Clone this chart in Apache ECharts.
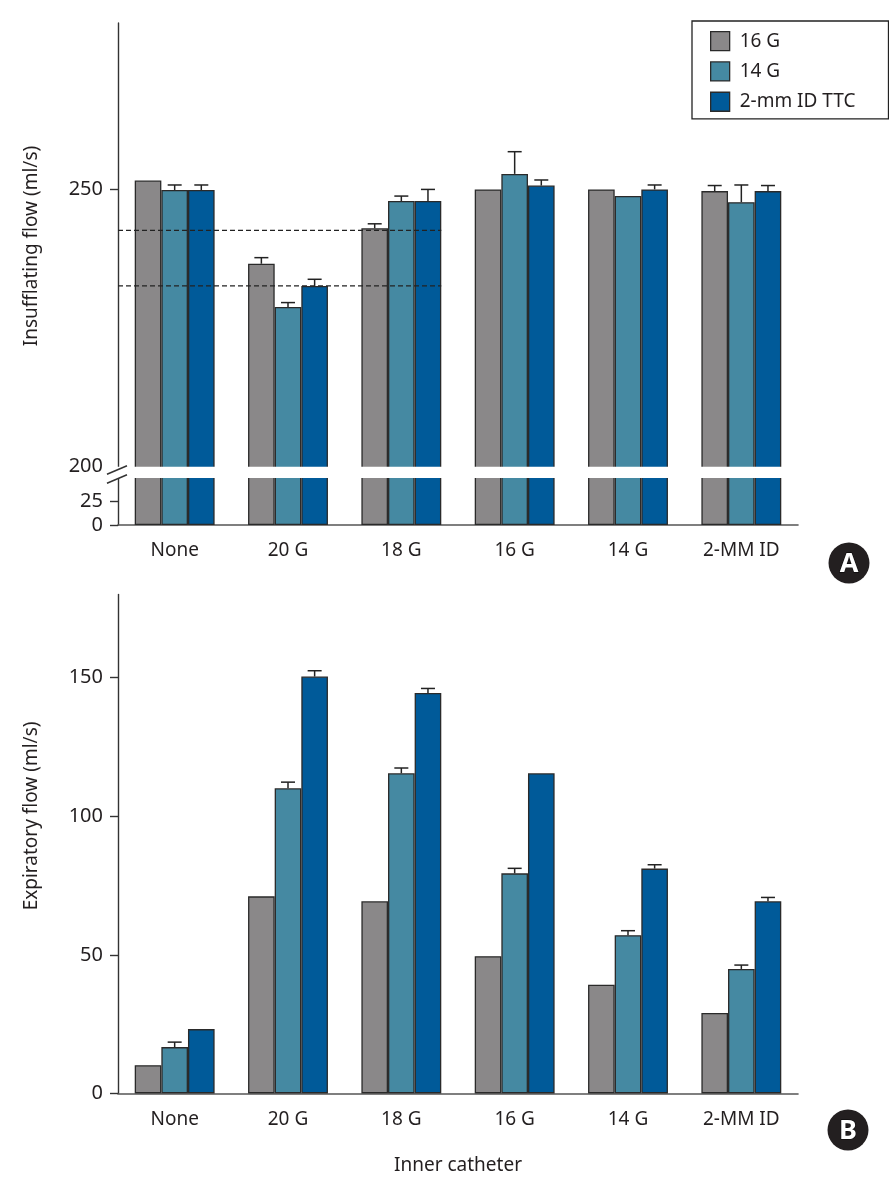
<!DOCTYPE html>
<html><head><meta charset="utf-8">
<script src="https://cdn.jsdelivr.net/npm/echarts@6/dist/echarts.min.js"></script>
<style>html,body{margin:0;padding:0;background:#fff}#c{width:889px;height:1178px}</style>
</head><body><div id="c"></div>
<script>
// ---------- data ----------
const categories = ['None', '20 G', '18 G', '16 G', '14 G', '2-MM ID'];
const seriesNames = ['16 G', '14 G', '2-mm ID TTC'];

const insufflating16G = [251.6, 236.6, 243.0, 250.0, 250.0, 249.7];
const insufflating14G = [249.9, 228.8, 247.9, 252.8, 248.8, 247.7];
const insufflatingTTC = [249.9, 232.6, 247.9, 250.7, 250.0, 249.7];
const insufflatingErr16G = [0, 1.1, 0.8, 0, 0, 1.0];
const insufflatingErr14G = [0.9, 0.8, 0.9, 4.0, 0, 3.1];
const insufflatingErrTTC = [0.9, 1.2, 2.1, 1.0, 0.8, 1.0];
const referenceLines = [242.6, 232.6];

const expiratory16G = [10.2, 71.1, 69.3, 49.5, 39.2, 29.0];
const expiratory14G = [16.7, 110.1, 115.5, 79.4, 57.1, 44.9];
const expiratoryTTC = [23.2, 150.4, 144.5, 115.5, 81.1, 69.3];
const expiratoryErr16G = [0, 0, 0, 0, 0, 0];
const expiratoryErr14G = [1.8, 2.2, 1.9, 1.8, 1.6, 1.4];
const expiratoryErrTTC = [0, 2.1, 1.6, 0, 1.4, 1.4];

const ticksATop = [200, 250];
const ticksABottom = [0, 25];
const ticksB = [0, 50, 100, 150];

// ---------- style ----------
const FONT = 'Noto Sans';
const TXT = '#231f20';
const COLORS = ['#8a8889', '#4589a2', '#005a99'];
const BORDER = '#2a2a2a';
const GAP = 0.295;
const L = 118, W = 680;

const chart = echarts.init(document.getElementById('c'), null, {renderer: 'canvas'});

function barSeries(name, xi, yi, data, color) {
  return {
    type: 'bar', name, xAxisIndex: xi, yAxisIndex: yi, data,
    barGap: '0%', barCategoryGap: (GAP * 100) + '%', silent: true, z: 2,
    itemStyle: {color, borderColor: BORDER, borderWidth: 1.3}
  };
}
function errorSeries(xi, yi, values, errs, slot) {
  return {
    type: 'custom', xAxisIndex: xi, yAxisIndex: yi, z: 3, silent: true,
    data: values.map((v, i) => [i, v, errs[i]]),
    renderItem(params, api) {
      const err = api.value(2);
      if (!err) return null;
      const band = api.size([1, 0])[0];
      const bw = band * (1 - GAP) / 3;
      const base = api.coord([api.value(0), api.value(1)]);
      const top = api.coord([api.value(0), api.value(1) + err]);
      const x = base[0] + (slot - 1) * bw;
      const st = {stroke: '#222', lineWidth: 1.5};
      return {type: 'group', children: [
        {type: 'line', shape: {x1: x, y1: base[1], x2: x, y2: top[1]}, style: st},
        {type: 'line', shape: {x1: x - 7, y1: top[1], x2: x + 7, y2: top[1]}, style: st}
      ]};
    }
  };
}

const axisLineStyle = {color: '#333', width: 1.4};
const labelStyle = {fontFamily: FONT, fontSize: 19, color: TXT};
const tickLabelStyle = {fontFamily: FONT, fontSize: 20, color: TXT};

function catAxis(gi, show, extra) {
  return Object.assign({
    type: 'category', gridIndex: gi, data: categories, show,
    axisLine: {show: true, lineStyle: {color: '#555', width: 1.6}},
    axisTick: {show: false},
    axisLabel: Object.assign({interval: 0, margin: 16}, labelStyle)
  }, extra || {});
}
function valAxis(gi, min, max, labels, ticks, extra) {
  return Object.assign({
    type: 'value', gridIndex: gi, min, max,
    splitLine: {show: false},
    axisLine: {show: true, lineStyle: axisLineStyle},
    axisTick: {show: true, length: 8, lineStyle: axisLineStyle, customValues: ticks},
    axisLabel: Object.assign({margin: 15, customValues: labels}, tickLabelStyle)
  }, extra || {});
}

const option = {
  backgroundColor: '#fff',
  animation: false,
  textStyle: {fontFamily: FONT},
  grid: [
    {left: L, width: W, top: 23, height: 446},
    {left: L, width: W, top: 476, height: 49},
    {left: L, width: W, top: 594.5, height: 498.9}
  ],
  xAxis: [
    catAxis(0, false),
    catAxis(1, true),
    catAxis(2, true, {
      axisLabel: Object.assign({interval: 0, margin: 17}, labelStyle),
      name: 'Inner catheter', nameLocation: 'middle', nameGap: 63,
      nameTextStyle: labelStyle
    })
  ],
  yAxis: [
    valAxis(0, 199.6, 280, ticksATop, [250], {
      name: 'Insufflating flow (ml/s)', nameLocation: 'middle', nameGap: 77,
      nameTextStyle: labelStyle
    }),
    valAxis(1, 0, 51, ticksABottom, ticksABottom),
    valAxis(2, 0, 180, ticksB, ticksB, {
      name: 'Expiratory flow (ml/s)', nameLocation: 'middle', nameGap: 77,
      nameTextStyle: Object.assign({padding: [0, 0, 0, 56]}, labelStyle)
    })
  ],
  legend: {
    data: seriesNames, orient: 'vertical', left: 692, top: 21,
    padding: [10, 33, 7, 18], itemWidth: 19, itemHeight: 19, itemGap: 10,
    icon: 'rect', borderColor: '#222', borderWidth: 1.3, selectedMode: false,
    itemStyle: {borderColor: BORDER, borderWidth: 1.3},
    textStyle: Object.assign({padding: [0, 0, 0, 5]}, labelStyle)
  },
  series: [
    barSeries(seriesNames[0], 0, 0, insufflating16G, COLORS[0]),
    barSeries(seriesNames[1], 0, 0, insufflating14G, COLORS[1]),
    barSeries(seriesNames[2], 0, 0, insufflatingTTC, COLORS[2]),
    barSeries(seriesNames[0], 1, 1, insufflating16G, COLORS[0]),
    barSeries(seriesNames[1], 1, 1, insufflating14G, COLORS[1]),
    barSeries(seriesNames[2], 1, 1, insufflatingTTC, COLORS[2]),
    barSeries(seriesNames[0], 2, 2, expiratory16G, COLORS[0]),
    barSeries(seriesNames[1], 2, 2, expiratory14G, COLORS[1]),
    barSeries(seriesNames[2], 2, 2, expiratoryTTC, COLORS[2]),
    errorSeries(0, 0, insufflating16G, insufflatingErr16G, 0),
    errorSeries(0, 0, insufflating14G, insufflatingErr14G, 1),
    errorSeries(0, 0, insufflatingTTC, insufflatingErrTTC, 2),
    errorSeries(2, 2, expiratory16G, expiratoryErr16G, 0),
    errorSeries(2, 2, expiratory14G, expiratoryErr14G, 1),
    errorSeries(2, 2, expiratoryTTC, expiratoryErrTTC, 2),
    {
      type: 'custom', xAxisIndex: 0, yAxisIndex: 0, z: 4, silent: true,
      data: referenceLines.map(v => [2, v]),
      renderItem(params, api) {
        const band = api.size([1, 0])[0];
        const bw = band * (1 - GAP) / 3;
        const p = api.coord([api.value(0), api.value(1)]);
        return {type: 'line',
          shape: {x1: params.coordSys.x, y1: p[1], x2: p[0] + 1.5 * bw, y2: p[1]},
          style: {stroke: '#222', lineWidth: 1.3, lineDash: [5, 3]}};
      }
    }
  ]
};
chart.setOption(option);

// axis break decoration, derived from the two axes of panel A
const yBreakTop = chart.convertToPixel({yAxisIndex: 0}, 200);
const yBreakBot = chart.convertToPixel({yAxisIndex: 1}, 49);
const slash = {stroke: '#333', lineWidth: 1.5};
chart.setOption({
  graphic: [
    {type: 'rect', z: 100, shape: {x: L - 6, y: yBreakTop, width: W + 10, height: yBreakBot - yBreakTop},
      style: {fill: '#fff'}, silent: true},
    {type: 'line', z: 101, shape: {x1: L - 11, y1: yBreakTop + 7.5, x2: L + 9, y2: yBreakTop - 1}, style: slash},
    {type: 'line', z: 101, shape: {x1: L - 11, y1: yBreakTop + 16.5, x2: L + 9, y2: yBreakTop + 8}, style: slash},
    {type: 'circle', z: 101, shape: {cx: 849, cy: 563, r: 20.5}, style: {fill: '#231f20'}},
    {type: 'text', z: 102, x: 849, y: 564, style: {text: 'A', fill: '#fff', font: 'bold 27px "Noto Sans"', align: 'center', verticalAlign: 'middle', stroke: '#000', lineWidth: 1}},
    {type: 'circle', z: 101, shape: {cx: 848, cy: 1130, r: 20.5}, style: {fill: '#231f20'}},
    {type: 'text', z: 102, x: 848, y: 1131, style: {text: 'B', fill: '#fff', font: 'bold 27px "Noto Sans"', align: 'center', verticalAlign: 'middle', stroke: '#000', lineWidth: 1}}
  ]
});
</script>
</body></html>
